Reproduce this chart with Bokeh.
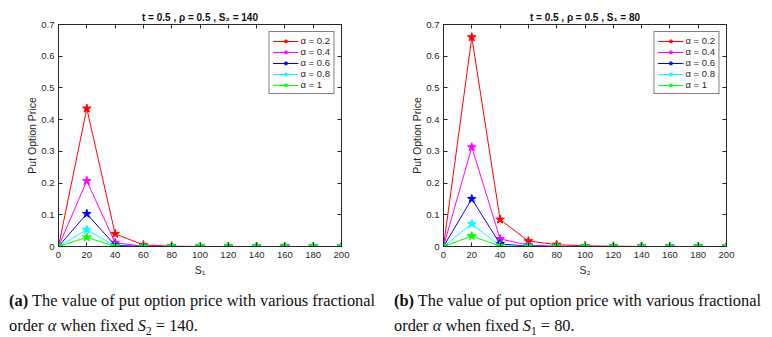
from bokeh.plotting import figure
from bokeh.models import LinearAxis, Range1d, FixedTicker, Div
from bokeh.layouts import column, row
from bokeh.embed import file_html
from bokeh.resources import INLINE

# ---------------- data ----------------
s_values = [0, 20, 40, 60, 80, 100, 120, 140, 160, 180, 200]
alpha_labels = ["α = 0.2", "α = 0.4", "α = 0.6", "α = 0.8", "α = 1"]
series_colors = ["#ff0000", "#ff00ff", "#0000ff", "#00ffff", "#00ff00"]

# (a) fixed S2 = 140, x = S1
price_a_02 = [0, 0.435, 0.040, 0.005, 0.001, 0, 0, 0, 0, 0, 0]
price_a_04 = [0, 0.207, 0.012, 0.001, 0, 0, 0, 0, 0, 0, 0]
price_a_06 = [0, 0.103, 0.004, 0, 0, 0, 0, 0, 0, 0, 0]
price_a_08 = [0, 0.053, 0.001, 0, 0, 0, 0, 0, 0, 0, 0]
price_a_10 = [0, 0.029, 0, 0, 0, 0, 0, 0, 0, 0, 0]

# (b) fixed S1 = 80, x = S2
price_b_02 = [0, 0.660, 0.085, 0.017, 0.006, 0.002, 0.001, 0, 0, 0, 0]
price_b_04 = [0, 0.313, 0.024, 0.004, 0.001, 0, 0, 0, 0, 0, 0]
price_b_06 = [0, 0.150, 0.008, 0.001, 0, 0, 0, 0, 0, 0, 0]
price_b_08 = [0, 0.071, 0.002, 0, 0, 0, 0, 0, 0, 0, 0]
price_b_10 = [0, 0.033, 0.001, 0, 0, 0, 0, 0, 0, 0, 0]

x_ticks = [0, 20, 40, 60, 80, 100, 120, 140, 160, 180, 200]
y_ticks = [0, 0.1, 0.2, 0.3, 0.4, 0.5, 0.6, 0.7]

title_a = "t = 0.5 , ρ = 0.5 , S₂ = 140"
title_b = "t = 0.5 , ρ = 0.5 , S₁ = 80"
xlabel_a = "S₁"
xlabel_b = "S₂"
ylabel = "Put Option Price"

caption_a = ('<b>(a)</b> The value of put option price with various fractional<br>'
             'order <i>α</i> when fixed <i>S</i><sub style="font-size:70%">2</sub> = 140.')
caption_b = ('<b>(b)</b> The value of put option price with various fractional<br>'
             'order <i>α</i> when fixed <i>S</i><sub style="font-size:70%">1</sub> = 80.')

AX = "#262626"
FONT = "Liberation Sans"


def base_axis_style(ax):
    ax.axis_line_color = AX
    ax.major_tick_line_color = AX
    ax.major_tick_in = 4
    ax.major_tick_out = 0
    ax.minor_tick_line_color = None


def make_fig(title, xlabel, series, bl, br):
    p = figure(width=386, height=280, x_range=Range1d(0, 200), y_range=Range1d(0, 0.7),
               output_backend="svg", toolbar_location=None,
               min_border_left=bl, min_border_right=br, min_border_top=24, min_border_bottom=34)
    p.xgrid.visible = False
    p.ygrid.visible = False
    p.outline_line_color = AX
    p.background_fill_color = "white"
    p.border_fill_color = "white"

    for ax in p.xaxis:
        ax.ticker = FixedTicker(ticks=x_ticks)
    for ax in p.yaxis:
        ax.ticker = FixedTicker(ticks=y_ticks)
        ax.major_label_overrides = {0: "0"}

    for ax in list(p.xaxis) + list(p.yaxis):
        base_axis_style(ax)
        ax.major_label_text_font = FONT
        ax.major_label_text_font_size = "9.5px"
        ax.major_label_text_color = AX
        ax.axis_label_text_font = FONT
        ax.axis_label_text_font_size = "10.5px"
        ax.axis_label_text_font_style = "normal"
        ax.axis_label_text_color = AX

    p.xaxis.axis_label = xlabel
    p.yaxis.axis_label = ylabel
    p.xaxis.major_label_standoff = 5
    p.xaxis.axis_label_standoff = 3
    p.yaxis.major_label_standoff = 4
    p.yaxis.axis_label_standoff = 0

    # top axis: carries the title as its axis label, ticks only
    top = LinearAxis(ticker=FixedTicker(ticks=x_ticks), axis_label=title)
    base_axis_style(top)
    top.major_label_text_color = None
    top.major_label_text_alpha = 0
    top.major_label_standoff = 0
    top.axis_label_standoff = 2
    top.axis_label_text_font = FONT
    top.axis_label_text_font_size = "10px"
    top.axis_label_text_font_style = "bold"
    top.axis_label_text_color = "#111111"
    p.add_layout(top, "above")

    right = LinearAxis(ticker=FixedTicker(ticks=y_ticks))
    base_axis_style(right)
    right.major_label_text_color = None
    right.major_label_text_alpha = 0
    right.major_label_standoff = 0
    p.add_layout(right, "right")

    for vals, lab, col in zip(series, alpha_labels, series_colors):
        p.line(s_values, vals, line_color=col, line_width=1, legend_label=lab)
        p.scatter(s_values, vals, marker="star", size=9, line_color=col, fill_color=col,
                  line_width=1, legend_label=lab)

    lg = p.legend[0]
    lg.location = "top_right"
    lg.margin = 7
    lg.padding = 3
    lg.spacing = 0
    lg.label_height = 10
    lg.glyph_height = 10
    lg.glyph_width = 26
    lg.label_standoff = 2
    lg.label_text_font = FONT
    lg.label_text_font_size = "9.5px"
    lg.label_text_color = AX
    lg.border_line_color = "black"
    lg.border_line_width = 1
    lg.background_fill_alpha = 1
    return p


p1 = make_fig(title_a, xlabel_a, [price_a_02, price_a_04, price_a_06, price_a_08, price_a_10], 58, 45)
p2 = make_fig(title_b, xlabel_b, [price_b_02, price_b_04, price_b_06, price_b_08, price_b_10], 57, 46)


def caption(html, pad_left):
    return Div(text=('<div style="font-family:\'Liberation Serif\';font-size:16.4px;line-height:25px;'
                     'padding-left:%dpx;padding-top:8px;color:#111;white-space:nowrap;">%s</div>'
                     % (pad_left, html)),
               width=386, height=57, margin=(0, 0, 0, 0))


d1 = caption(caption_a, 9)
d2 = caption(caption_b, 8)

layout = column(row(p1, p2), row(d1, d2))

with open("out.html", "w") as f:
    f.write(file_html(layout, INLINE))
